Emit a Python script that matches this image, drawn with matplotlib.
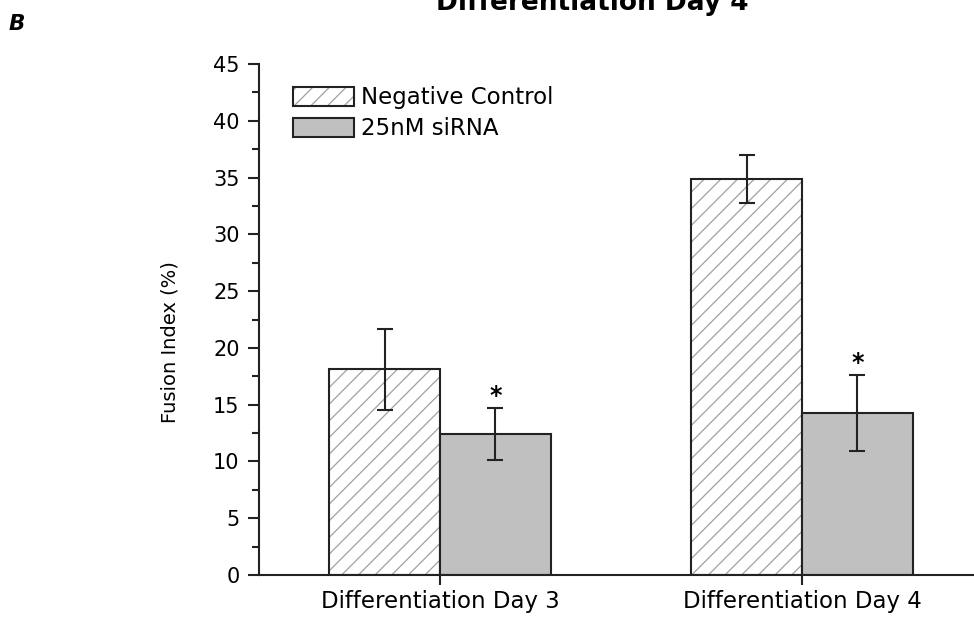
import matplotlib
matplotlib.use("Agg")
import matplotlib.pyplot as plt
from matplotlib.patches import Patch
from matplotlib.legend_handler import HandlerTuple
from matplotlib.ticker import MultipleLocator
import numpy as np

categories = ["Differentiation Day 3", "Differentiation Day 4"]
series_names = ["Negative Control", "25nM siRNA"]
neg_control = [18.1, 34.9]
neg_control_err = [3.6, 2.1]
sirna = [12.4, 14.3]
sirna_err = [2.3, 3.35]
significant = [True, True]  # stars above siRNA bars

plt.rcParams['font.family'] = ['DejaVu Sans']
plt.rcParams['hatch.linewidth'] = 0.9

W, H = 974, 617
fig = plt.figure(figsize=(W / 100, H / 100), dpi=100)
# axes from spine at x=259 to beyond right edge, y from 575 (0) to 64 (45)
ax = fig.add_axes([259 / W, (H - 575) / H, (983 - 259) / W, (575 - 64) / H])

x = np.arange(len(categories))
bw = 0.3066
dark = '#222222'
hatch_grey = '#a0a0a0'

# hatch drawn in grey first, then the dark outline on top
ax.bar(x - bw / 2, neg_control, bw, facecolor='white', edgecolor=hatch_grey,
       linewidth=0, hatch='//', zorder=2)
ax.bar(x - bw / 2, neg_control, bw, facecolor='none', edgecolor=dark,
       linewidth=1.5, zorder=2)
ax.bar(x + bw / 2, sirna, bw, facecolor='#c0c0c0', edgecolor=dark,
       linewidth=1.5, zorder=2)
ax.errorbar(x - bw / 2, neg_control, yerr=neg_control_err, fmt='none',
            ecolor=dark, elinewidth=1.5, capsize=6, capthick=1.5, zorder=3)
ax.errorbar(x + bw / 2, sirna, yerr=sirna_err, fmt='none',
            ecolor=dark, elinewidth=1.5, capsize=6, capthick=1.5, zorder=3)

for i, sig in enumerate(significant):
    if sig:
        ax.annotate('*', (x[i] + bw / 2, sirna[i] + sirna_err[i]),
                    xytext=(0, 3.5), textcoords='offset points',
                    ha='center', va='baseline', fontsize=17,
                    fontweight='bold', color='black')

ax.set_xlim(-0.5, 1.5)
ax.set_ylim(0, 45)
ax.yaxis.set_major_locator(MultipleLocator(5))
ax.yaxis.set_minor_locator(MultipleLocator(2.5))
ax.set_xticks(x)
ax.set_xticklabels(categories)

for s in ['top', 'right']:
    ax.spines[s].set_visible(False)
for s in ['left', 'bottom']:
    ax.spines[s].set_linewidth(1.5)
    ax.spines[s].set_color(dark)

ax.tick_params(axis='y', which='major', direction='out', length=8, width=1.5,
               color=dark, pad=6, labelsize=15, labelcolor='black')
ax.tick_params(axis='y', which='minor', direction='out', length=5, width=1.5,
               color=dark)
ax.tick_params(axis='x', which='major', direction='out', length=7, width=1.5,
               color=dark, pad=4, labelsize=16.5, labelcolor='black')

ax.set_ylabel('Fusion Index (%)', fontsize=14)
ax.yaxis.set_label_coords((180 - 259) / 724, (575 - 342) / 511)

nc_handle = (Patch(facecolor='white', edgecolor=hatch_grey, linewidth=0, hatch='//'),
             Patch(facecolor='none', edgecolor=dark, linewidth=1.5))
si_handle = Patch(facecolor='#c0c0c0', edgecolor=dark, linewidth=1.5)
fig.legend([nc_handle, si_handle], series_names, loc='upper left',
           bbox_to_anchor=(293 / W, (H - 86) / H), frameon=False,
           fontsize=16.5, handlelength=2.65, handleheight=0.9,
           handletextpad=0.3, labelspacing=0.35, borderpad=0,
           borderaxespad=0, handler_map={tuple: HandlerTuple(ndivide=1, pad=0)})

fig.text(592 / W, (H - 10) / H, 'Differentiation Day 4', ha='center',
         va='baseline', fontsize=19, fontweight='bold')
fig.text(9 / W, (H - 30) / H, 'B', ha='left', va='baseline', fontsize=15.5,
         fontweight='bold', fontstyle='italic')

fig.savefig('out.png', dpi=100)
